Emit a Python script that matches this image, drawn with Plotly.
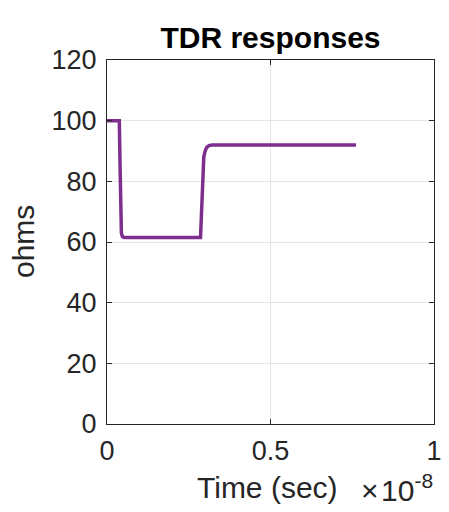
import plotly.graph_objects as go

# Data (time in seconds, impedance in ohms)
time_s = [0.0, 0.376e-9, 0.40e-9, 0.42e-9, 0.44e-9, 0.47e-9, 0.52e-9,
          2.86e-9, 2.88e-9, 2.90e-9, 2.92e-9, 2.96e-9, 3.00e-9, 3.05e-9,
          3.12e-9, 3.21e-9, 7.615e-9]
impedance = [100, 100, 85, 70, 63, 61.8, 61.5,
             61.5, 67, 75, 83, 88, 90, 91.2, 91.8, 92, 92]

x_tickvals = [0, 0.5e-8, 1e-8]
x_ticktext = ["0", "0.5", "1"]
y_tickvals = [0, 20, 40, 60, 80, 100, 120]

FONT = "Liberation Sans, Arial, sans-serif"
AX = "#262626"

L, R, T, B = 107, 15, 60, 88
W, H = 449, 512

fig = go.Figure()
fig.add_trace(go.Scatter(x=time_s, y=impedance, mode="lines",
                         line=dict(color="#7E2F8E", width=3.5), showlegend=False))

axis_common = dict(showline=True, linecolor=AX, linewidth=1, mirror="ticks",
                   ticks="inside", ticklen=5, tickcolor=AX, tickwidth=1,
                   showgrid=True, gridcolor="#e5e5e5", gridwidth=1,
                   zeroline=False, automargin=False,
                   tickfont=dict(family=FONT, size=27, color=AX))

fig.update_xaxes(range=[0, 1e-8], tickvals=x_tickvals, ticktext=x_ticktext,
                 ticklabelstandoff=3, **axis_common)
fig.update_yaxes(range=[0, 120], tickvals=y_tickvals, ticklabelstandoff=4, **axis_common)

fig.update_layout(
    width=W, height=H,
    margin=dict(l=L, r=R, t=T, b=B, autoexpand=False),
    paper_bgcolor="white", plot_bgcolor="white",
    title=dict(text="<b>TDR responses</b>", x=(L + (W - L - R) / 2) / W, xanchor="center",
               y=1 - 37 / H, yanchor="middle",
               font=dict(family=FONT, size=30, color="black")),
    annotations=[
        dict(text="Time (sec)", xref="paper", yref="paper", x=0.5, y=0,
             xanchor="center", yanchor="middle", yshift=-63, xshift=-3,
             showarrow=False, font=dict(family=FONT, size=30, color=AX)),
        dict(text="ohms", xref="paper", yref="paper", x=0, y=0.5,
             xanchor="center", yanchor="middle", xshift=-84, textangle=-90,
             showarrow=False, font=dict(family=FONT, size=30, color=AX)),
        dict(text="\u00d7\u200a10<sup>-8</sup>",
             xref="paper", yref="paper", x=1, y=0,
             xanchor="right", yanchor="middle", yshift=-64, xshift=1,
             showarrow=False, font=dict(family=FONT, size=30, color=AX)),
    ],
)

fig.write_html("out.html")
